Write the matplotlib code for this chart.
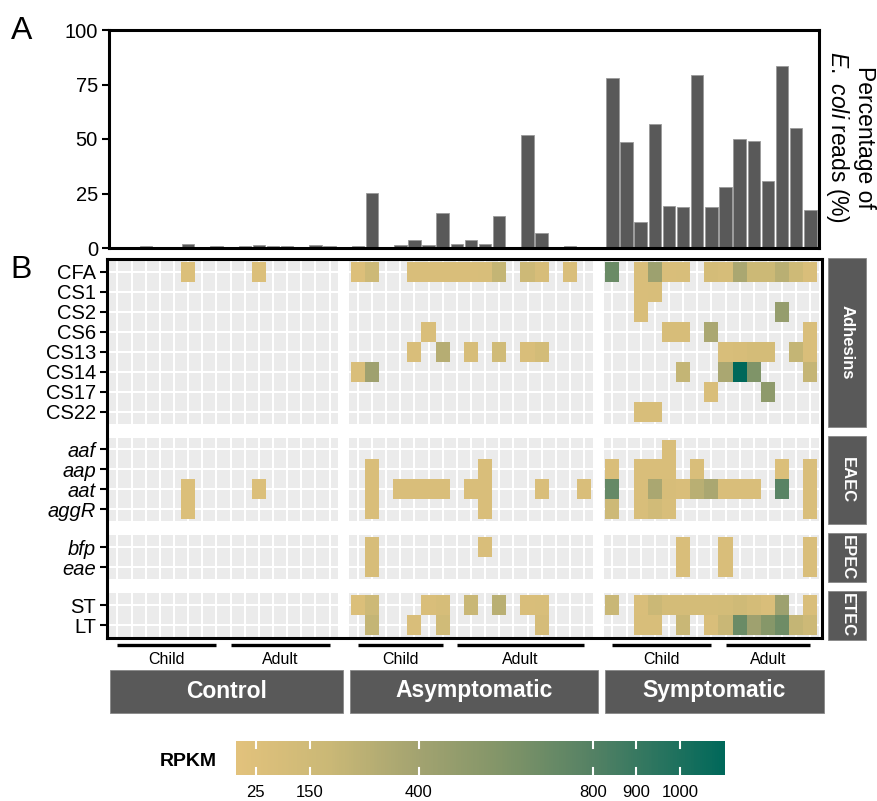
import numpy as np
import matplotlib
matplotlib.use("Agg")
import matplotlib.pyplot as plt
from matplotlib.colors import LinearSegmentedColormap, Normalize
from matplotlib.patches import Rectangle
from matplotlib.cm import ScalarMappable
import matplotlib.transforms as mtrans

plt.rcParams['font.family'] = ['Liberation Sans', 'DejaVu Sans']
plt.rcParams['mathtext.fontset'] = 'custom'
plt.rcParams['mathtext.rm'] = 'Liberation Sans'
plt.rcParams['mathtext.it'] = 'Liberation Sans:italic'

# ---------------- data ----------------
groups = ["Control", "Asymptomatic", "Symptomatic"]
subgroup_names = ["Child", "Adult"]
ctrl_sub_sizes = [8, 8]
asym_sub_sizes = [7, 10]
symp_sub_sizes = [8, 7]

ctrl_pct = [0.0, 0.0, 0.9, 0.0, 0.0, 1.8, 0.0, 0.9, 0.0, 1.0, 1.3, 0.9, 0.9, 0.5, 1.2, 0.8]
asym_pct = [1.1, 25.2, 0.2, 1.4, 3.7, 1.5, 16.2, 1.8, 3.7, 1.8, 14.5, 0.2, 51.9, 6.9, 0.3, 1.1, 0.6]
symp_pct = [78.2, 48.5, 11.9, 56.8, 19.4, 18.8, 79.2, 18.8, 27.9, 50.2, 49.3, 30.8, 83.5, 55.0, 17.6]

gene_groups = ["Adhesins", "EAEC", "EPEC", "ETEC"]
adhesin_genes = ["CFA", "CS1", "CS2", "CS6", "CS13", "CS14", "CS17", "CS22"]
eaec_genes = ["aaf", "aap", "aat", "aggR"]
epec_genes = ["bfp", "eae"]
etec_genes = ["ST", "LT"]
italic_gene_groups = ["EAEC", "EPEC"]

# RPKM values: gene -> {column index within group: value}
ctrl_rpkm = {
    "CFA": {5: 50, 10: 50},
    "aat": {5: 50, 10: 50},
    "aggR": {5: 50},
}
asym_rpkm = {
    "CFA": {0: 40, 1: 170, 4: 60, 5: 60, 6: 60, 7: 60, 8: 60, 9: 70, 10: 230, 12: 170, 13: 80, 15: 60},
    "CS6": {5: 60},
    "CS13": {4: 60, 6: 300, 8: 80, 10: 140, 12: 60, 13: 120},
    "CS14": {0: 60, 1: 420},
    "aap": {1: 60, 9: 60},
    "aat": {1: 60, 3: 60, 4: 60, 5: 60, 6: 60, 8: 60, 9: 60, 13: 60, 16: 60},
    "aggR": {1: 60, 9: 60},
    "bfp": {1: 80, 9: 60},
    "eae": {1: 80},
    "ST": {0: 50, 1: 170, 5: 60, 6: 90, 8: 200, 10: 280, 12: 60, 13: 70},
    "LT": {1: 230, 4: 60, 6: 140, 13: 100},
}
symp_rpkm = {
    "CFA": {0: 700, 2: 60, 3: 430, 4: 60, 5: 70, 7: 110, 8: 90, 9: 360, 10: 180, 11: 180, 12: 280, 13: 160, 14: 60},
    "CS1": {2: 60, 3: 70},
    "CS2": {2: 60, 12: 480},
    "CS6": {4: 80, 5: 80, 7: 360, 14: 60},
    "CS13": {8: 70, 9: 80, 10: 110, 11: 110, 13: 230, 14: 60},
    "CS14": {5: 230, 8: 360, 9: 1100, 10: 600, 14: 220},
    "CS17": {7: 60, 11: 520},
    "CS22": {2: 70, 3: 70},
    "aaf": {4: 60},
    "aap": {0: 60, 2: 60, 3: 60, 4: 60, 6: 60, 12: 50, 14: 60},
    "aat": {0: 720, 2: 60, 3: 360, 4: 80, 5: 60, 6: 280, 7: 360, 8: 60, 9: 60, 10: 60, 12: 780, 14: 60},
    "aggR": {0: 170, 2: 70, 3: 130, 4: 70, 14: 60},
    "bfp": {5: 60, 8: 60, 14: 60},
    "eae": {5: 60, 8: 60, 14: 60},
    "ST": {0: 200, 2: 60, 3: 190, 4: 110, 5: 110, 6: 110, 7: 110, 8: 120, 9: 150, 10: 110, 11: 60, 12: 430, 14: 60},
    "LT": {2: 70, 3: 70, 5: 200, 7: 60, 8: 200, 9: 700, 10: 420, 11: 560, 12: 680, 13: 230, 14: 170},
}
rpkm_ticks = [25, 150, 400, 800, 900, 1000]
rpkm_min, rpkm_max = -20, 1104

# ---------------- styling ----------------
W, H = 877, 801
DARK = "#595959"
PANEL = "#EBEBEB"
cmap = LinearSegmentedColormap.from_list(
    "rpkm",
    [(0.0, (226/255, 194/255, 124/255)),
     (0.19, (202/255, 184/255, 118/255)),
     (0.37, (163/255, 163/255, 112/255)),
     (0.55, (128/255, 148/255, 104/255)),
     (0.73, (84/255, 129/255, 100/255)),
     (1.0, (0/255, 104/255, 90/255))])
norm = Normalize(rpkm_min, rpkm_max)

def fx(x):
    return x / W

def fy(y):
    return 1 - y / H

fig = plt.figure(figsize=(W / 100, H / 100), dpi=100)

# column positions (spacer between groups)
pct_lists = [ctrl_pct, asym_pct, symp_pct]
rpkm_lists = [ctrl_rpkm, asym_rpkm, symp_rpkm]
sub_sizes = [ctrl_sub_sizes, asym_sub_sizes, symp_sub_sizes]
col_pos = []
start = 0
for p in pct_lists:
    col_pos.append(np.arange(len(p)) + start)
    start += len(p) + 1

# row positions (facet gaps)
gene_lists = [adhesin_genes, eaec_genes, epec_genes, etec_genes]
row_centers = []
row_panels = []
r = 0.0
for g in gene_lists:
    row_centers.append(r + 0.6 + np.arange(len(g)))
    row_panels.append((r, r + len(g) + 0.2))
    r += len(g) + 0.2 + 0.7
total_rows = r - 0.7

PXU = 14.14  # px per column unit
X0 = 109      # px of x=-0.6

# ---------------- bar chart ----------------
ax1 = fig.add_axes([fx(109), fy(248), fx(819) - fx(109), fy(30) - fy(248)])
for pos, p in zip(col_pos, pct_lists):
    ax1.bar(pos, p, width=0.88, color=DARK, edgecolor="#9a9a9a", linewidth=0.6)
ax1.set_xlim(-0.6, -0.6 + (819 - 109) / PXU)
ax1.set_ylim(0, 100)
ax1.set_yticks([0, 25, 50, 75, 100])
ax1.set_xticks([])
ax1.tick_params(axis='y', labelsize=14.5, length=5, width=1.5, pad=3, colors='black')
for s in ax1.spines.values():
    s.set_linewidth(2.2)
fig.text(fx(850), fy(137), "Percentage of\n$\\it{E.\\ coli}$ reads (%)", rotation=-90,
         ha='center', va='center', fontsize=16.5, linespacing=1.12, multialignment='center')

# ---------------- heatmap ----------------
ax2 = fig.add_axes([fx(107), fy(638), fx(822) - fx(107), fy(259) - fy(638)])
ax2.set_xlim(-0.6 - 2 / PXU, -0.6 + (822 - X0) / PXU)
ax2.set_ylim(total_rows + 0.05, -0.05)

for gi, genes in enumerate(gene_lists):
    r0, r1 = row_panels[gi]
    rc = row_centers[gi]
    for ci, pos in enumerate(col_pos):
        x0 = pos[0] - 0.6
        x1 = pos[-1] + 0.6
        ax2.add_patch(Rectangle((x0, r0), x1 - x0, r1 - r0, facecolor=PANEL, edgecolor='none', zorder=0))
        for x in pos:
            ax2.plot([x, x], [r0, r1], color='white', lw=1.5, zorder=1, solid_capstyle='butt')
        for y in rc:
            ax2.plot([x0, x1], [y, y], color='white', lw=1.5, zorder=1, solid_capstyle='butt')
        data = np.zeros((len(genes), len(pos)))
        for ri, gname in enumerate(genes):
            for c, v in rpkm_lists[ci].get(gname, {}).items():
                data[ri, c] = v
        data = np.ma.masked_equal(data, 0)
        xe = np.append(pos - 0.5, pos[-1] + 0.5)
        ye = np.append(rc - 0.5, rc[-1] + 0.5)
        ax2.pcolormesh(xe, ye, data, cmap=cmap, norm=norm, zorder=2, edgecolors='none')

all_rows = np.concatenate(row_centers)
all_genes = sum(gene_lists, [])
ax2.set_yticks(all_rows)
ax2.set_yticklabels(all_genes)
ax2.set_xticks([])
ax2.tick_params(axis='y', labelsize=14.5, length=5, width=1.5, pad=3)
italic_set = set()
for gname, genes in zip(gene_groups, gene_lists):
    if gname in italic_gene_groups:
        italic_set.update(genes)
for lab in ax2.get_yticklabels():
    if lab.get_text() in italic_set:
        lab.set_fontstyle('italic')
for s in ax2.spines.values():
    s.set_linewidth(2.2)
    s.set_zorder(5)

# right strips
tr_strip = mtrans.blended_transform_factory(fig.transFigure, ax2.transData)
for gname, (r0, r1) in zip(gene_groups, row_panels):
    s0, s1 = r0 - 0.1, r1 + 0.15
    ax2.add_patch(Rectangle((fx(828), s0), fx(866) - fx(828), s1 - s0, transform=tr_strip,
                            facecolor=DARK, edgecolor='#888888', lw=0.6, clip_on=False))
    ax2.text((fx(828) + fx(866)) / 2, (s0 + s1) / 2, gname, transform=tr_strip, rotation=-90,
             ha='center', va='center', color='white', fontsize=12, fontweight='bold')

# bottom group annotations
tr_bot = mtrans.blended_transform_factory(ax2.transData, fig.transFigure)
for gname, pos, sizes in zip(groups, col_pos, sub_sizes):
    s0 = 0
    for sname, n in zip(subgroup_names, sizes):
        xa, xb = pos[s0], pos[s0 + n - 1]
        ax2.plot([xa, xb], [fy(645), fy(645)], transform=tr_bot, color='black', lw=2.4,
                 clip_on=False, solid_capstyle='butt')
        ax2.text((xa + xb) / 2, fy(660), sname, transform=tr_bot, ha='center', va='center',
                 fontsize=11.5)
        s0 += n
    bx0 = pos[0] - 0.55
    bx1 = pos[-1] + 0.95
    ax2.add_patch(Rectangle((bx0, fy(713)), bx1 - bx0, fy(670) - fy(713), transform=tr_bot,
                            facecolor=DARK, edgecolor='#888888', lw=0.6, clip_on=False))
    ax2.text((bx0 + bx1) / 2, fy(691), gname, transform=tr_bot, ha='center', va='center',
             color='white', fontsize=16.5, fontweight='bold')

# panel letters
fig.text(fx(22), fy(31), "A", ha='center', va='center', fontsize=23)
fig.text(fx(21), fy(270), "B", ha='center', va='center', fontsize=23)

# ---------------- colorbar ----------------
cax = fig.add_axes([fx(236), fy(775), fx(725) - fx(236), fy(741) - fy(775)])
cb = fig.colorbar(ScalarMappable(norm=norm, cmap=cmap), cax=cax, orientation='horizontal')
cb.outline.set_visible(False)
cb.set_ticks(rpkm_ticks)
cax.tick_params(length=0, labelsize=12, pad=7)
xt = cax.get_xaxis_transform()
for t in rpkm_ticks:
    cax.plot([t, t], [0, 0.2], transform=xt, color='white', lw=1.5)
    cax.plot([t, t], [0.8, 1.0], transform=xt, color='white', lw=1.5)
fig.text(fx(188), fy(762), "RPKM", ha='center', va='center', fontsize=14, fontweight='bold')

fig.savefig("out.png", dpi=100)
